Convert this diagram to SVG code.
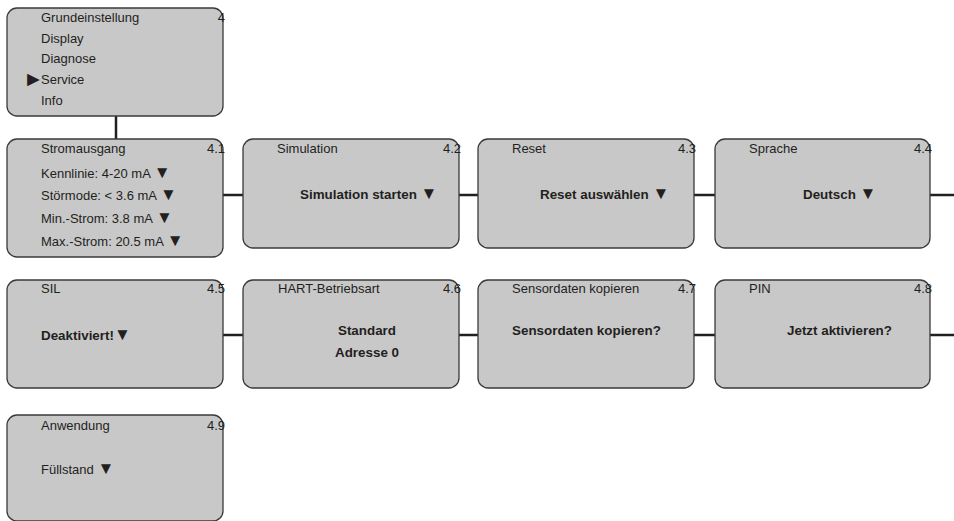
<svg xmlns="http://www.w3.org/2000/svg" width="954" height="521" viewBox="0 0 954 521">
<style>
.box{fill:#c8c8c9;stroke:#3a3a3a;stroke-width:1.3}
.t{font-family:"Liberation Sans",Arial,sans-serif;font-size:13px;fill:#231f20}
.b{font-family:"Liberation Sans",Arial,sans-serif;font-size:13.4px;font-weight:bold;fill:#231f20}
.n{font-family:"Liberation Sans",Arial,sans-serif;font-size:13px;fill:#231f20;text-anchor:end}
.tri{font-size:17px}
.c{stroke:#231f20;stroke-width:2.5;fill:none}
</style>
<rect width="954" height="521" fill="#ffffff"/>
<g id="connectors">
<line class="c" x1="116" y1="116" x2="116" y2="139"/>
<line class="c" x1="223" y1="195" x2="243" y2="195"/>
<line class="c" x1="459" y1="195" x2="478" y2="195"/>
<line class="c" x1="694" y1="195" x2="715" y2="195"/>
<line class="c" x1="930" y1="195" x2="954" y2="195"/>
<line class="c" x1="223" y1="335" x2="243" y2="335"/>
<line class="c" x1="459" y1="335" x2="478" y2="335"/>
<line class="c" x1="694" y1="335" x2="715" y2="335"/>
<line class="c" x1="930" y1="335" x2="954" y2="335"/>
</g>
<g id="menu">
<rect class="box" x="7" y="8" width="216" height="108" rx="10"/>
<text class="t" x="41" y="22">Grundeinstellung</text>
<text class="t" x="41" y="43">Display</text>
<text class="t" x="41" y="63">Diagnose</text>
<text class="t" x="23" y="86" style="font-size:21px">►</text>
<text class="t" x="41" y="84">Service</text>
<text class="t" x="41" y="105">Info</text>
<text class="n" x="225" y="22">4</text>
</g>
<g id="n41">
<rect class="box" x="7" y="139" width="216" height="118" rx="10"/>
<text class="t" x="41" y="153">Stromausgang</text>
<text class="n" x="225" y="153">4.1</text>
<text class="t" x="41" y="178">Kennlinie: 4-20 mA <tspan class="tri">▼</tspan></text>
<text class="t" x="41" y="200">Störmode: &lt; 3.6 mA <tspan class="tri">▼</tspan></text>
<text class="t" x="41" y="223">Min.-Strom: 3.8 mA <tspan class="tri">▼</tspan></text>
<text class="t" x="41" y="246">Max.-Strom: 20.5 mA <tspan class="tri">▼</tspan></text>
</g>
<g id="n42">
<rect class="box" x="243" y="139" width="216" height="109" rx="10"/>
<text class="t" x="277" y="153">Simulation</text>
<text class="n" x="461" y="153">4.2</text>
<text class="b" x="300" y="199">Simulation starten <tspan class="tri">▼</tspan></text>
</g>
<g id="n43">
<rect class="box" x="478" y="139" width="216" height="109" rx="10"/>
<text class="t" x="512" y="153">Reset</text>
<text class="n" x="696" y="153">4.3</text>
<text class="b" x="540" y="199">Reset auswählen <tspan class="tri">▼</tspan></text>
</g>
<g id="n44">
<rect class="box" x="715" y="139" width="215" height="109" rx="10"/>
<text class="t" x="749" y="153">Sprache</text>
<text class="n" x="932" y="153">4.4</text>
<text class="b" x="803" y="199">Deutsch <tspan class="tri">▼</tspan></text>
</g>
<g id="n45">
<rect class="box" x="7" y="280" width="216" height="108" rx="10"/>
<text class="t" x="41" y="293">SIL</text>
<text class="n" x="225" y="293">4.5</text>
<text class="b" x="41" y="340">Deaktiviert!<tspan class="tri">▼</tspan></text>
</g>
<g id="n46">
<rect class="box" x="243" y="280" width="216" height="108" rx="10"/>
<text class="t" x="278" y="293">HART-Betriebsart</text>
<text class="n" x="461" y="293">4.6</text>
<text class="b" x="367" y="335" text-anchor="middle">Standard</text>
<text class="b" x="367" y="357" text-anchor="middle">Adresse 0</text>
</g>
<g id="n47">
<rect class="box" x="478" y="280" width="216" height="108" rx="10"/>
<text class="t" x="512" y="293">Sensordaten kopieren</text>
<text class="n" x="696" y="293">4.7</text>
<text class="b" x="512" y="335">Sensordaten kopieren?</text>
</g>
<g id="n48">
<rect class="box" x="715" y="280" width="215" height="108" rx="10"/>
<text class="t" x="749" y="293">PIN</text>
<text class="n" x="932" y="293">4.8</text>
<text class="b" x="787" y="335">Jetzt aktivieren?</text>
</g>
<g id="n49">
<rect class="box" x="7" y="415" width="216" height="106" rx="10"/>
<text class="t" x="41" y="430">Anwendung</text>
<text class="n" x="225" y="430">4.9</text>
<text class="t" x="41" y="474">Füllstand <tspan class="tri">▼</tspan></text>
</g>
</svg>
